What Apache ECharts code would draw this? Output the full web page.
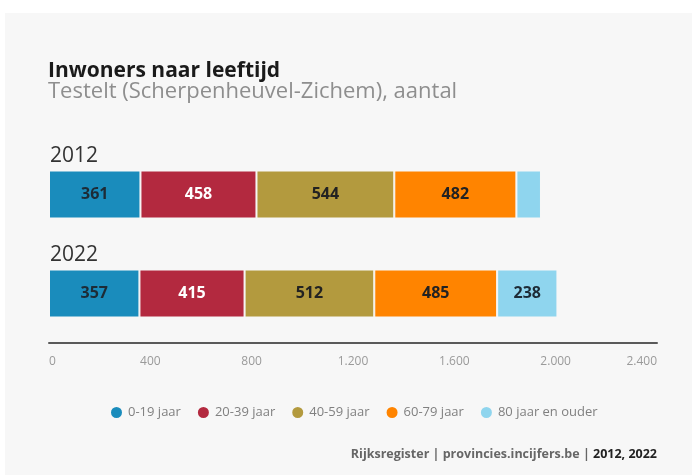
<!DOCTYPE html>
<html>
<head>
<meta charset="utf-8">
<script src="https://cdn.jsdelivr.net/npm/echarts@6/dist/echarts.min.js"></script>
<style>
  html, body { margin: 0; padding: 0; background: #ffffff; }
  #card { position: absolute; left: 5px; top: 13px; width: 687px; height: 462px; background: #f7f7f7; }
  #chart { position: absolute; left: 0; top: 0; width: 697px; height: 475px; }
</style>
</head>
<body>
<div id="card"></div>
<div id="chart"></div>
<script>
// data
const years = ['2012', '2022'];
const groups = ['0-19 jaar', '20-39 jaar', '40-59 jaar', '60-79 jaar', '80 jaar en ouder'];
const age0_19 = [361, 357];
const age20_39 = [458, 415];
const age40_59 = [544, 512];
const age60_79 = [482, 485];
const age80plus = [97, 238];
const xTicks = [0, 400, 800, 1200, 1600, 2000, 2400];

const colors = ['#1a8cbc', '#b3293f', '#b39a3e', '#ff8400', '#8fd5ee'];
const labelColors = ['#1d2b36', '#ffffff', '#222222', '#222222', '#1d2b36'];
const seriesData = [age0_19, age20_39, age40_59, age60_79, age80plus];

const fontFam = '"Open Sans", "Noto Sans", sans-serif';

function fmt(v) {
    return String(v).replace(/\B(?=(\d{3})+(?!\d))/g, '.');
}

let chart = echarts.init(document.getElementById('chart'), null, {renderer: 'canvas'});

chart.setOption({
    backgroundColor: 'transparent',
    textStyle: {fontFamily: fontFam},
    title: [{
        text: 'Inwoners naar leeftijd',
        left: 48,
        top: 61,
        padding: 0,
        textStyle: {fontSize: 21, fontWeight: 'bold', color: '#1a1a1a', fontFamily: fontFam}
    }, {
        text: 'Testelt (Scherpenheuvel-Zichem), aantal',
        left: 48,
        top: 81,
        padding: 0,
        textStyle: {fontSize: 22, fontWeight: 'normal', color: '#8e8e8e', fontFamily: fontFam}
    }, {
        text: '{a|Rijksregister | provincies.incijfers.be | }{b|2012, 2022}',
        right: 40,
        top: 448,
        padding: 0,
        textStyle: {
            rich: {
                a: {fontSize: 12.5, color: '#666666', fontFamily: fontFam},
                b: {fontSize: 12.5, color: '#222222', fontWeight: 'bold', fontFamily: fontFam}
            }
        }
    }],
    legend: {
        data: groups,
        top: 400,
        left: 104,
        icon: 'circle',
        itemWidth: 13,
        itemHeight: 13,
        itemGap: 15,
        selectedMode: false,
        textStyle: {fontSize: 13, color: '#808080', fontFamily: fontFam}
    },
    grid: {left: 49, right: 40, top: 145, height: 198, containLabel: false},
    xAxis: {
        type: 'value',
        min: 0,
        max: 2400,
        interval: 400,
        splitLine: {show: false},
        axisTick: {show: false},
        axisLine: {show: true, lineStyle: {color: '#5a5a5a', width: 2}},
        axisLabel: {
            color: '#9a9a9a',
            fontSize: 12,
            margin: 13,
            alignMinLabel: 'left',
            alignMaxLabel: 'right',
            formatter: v => xTicks.indexOf(v) >= 0 ? fmt(v) : ''
        }
    },
    yAxis: {
        type: 'category',
        data: years,
        inverse: true,
        axisLine: {show: false},
        axisTick: {show: false},
        axisLabel: {
            inside: true,
            margin: 1,
            color: '#333333',
            fontSize: 21,
            verticalAlign: 'bottom',
            padding: [0, 0, 28, 0]
        }
    },
    series: groups.map((g, i) => ({
        name: g,
        type: 'bar',
        stack: 'total',
        barWidth: 48,
        data: seriesData[i],
        itemStyle: {color: colors[i], borderColor: '#f7f7f7', borderWidth: 1},
        label: {
            show: true,
            position: 'inside',
            color: labelColors[i],
            fontWeight: 'bold',
            fontSize: 16,
            fontFamily: fontFam,
            formatter: p => p.value < 150 ? '' : fmt(p.value)
        },
        emphasis: {disabled: true}
    }))
});
</script>
</body>
</html>
